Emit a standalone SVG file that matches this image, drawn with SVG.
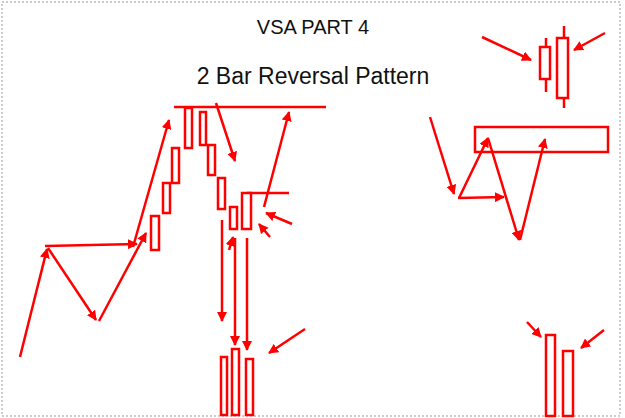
<svg xmlns="http://www.w3.org/2000/svg" width="625" height="418" viewBox="0 0 625 418">
<style>
.l{stroke:#f00;stroke-width:2.5;fill:none}
.a{stroke:#f00;stroke-width:2.5;fill:none;marker-end:url(#ah)}
.c{stroke:#f00;stroke-width:2.5;fill:#fff}
.t{font-family:"Liberation Sans",Arial,sans-serif;font-size:20px;fill:#111;text-anchor:middle}
</style>
<defs><marker id="ah" viewBox="0 0 10 10" refX="9" refY="5" markerWidth="4" markerHeight="4" orient="auto" markerUnits="strokeWidth"><path d="M0,0L10,5L0,10z" fill="#f00"/></marker></defs>
<rect width="625" height="418" fill="#fff"/>
<rect x="2" y="2" width="618" height="414" fill="none" stroke="#999" stroke-dasharray="2,2"/>
<text class="t" x="313" y="34">VSA PART 4</text>
<text class="t" x="313" y="84" style="font-size:23px">2 Bar Reversal Pattern</text>
<g id="connectors">
<path class="a" d="M20,357L47,249"/>
<path class="a" d="M45,246L137,244"/>
<path class="a" d="M48,248L96,320"/>
<path class="a" d="M99,321L146,233"/>
<path class="a" d="M133,247L169,120"/>
<path class="l" d="M174,107H326"/>
<path class="a" d="M216,103L235,161"/>
<path class="a" d="M264,207L289,112"/>
<path class="l" d="M247,193H289"/>
<path class="a" d="M292,224L266,213"/>
<path class="a" d="M270,237L259,224"/>
<path class="a" d="M229,250L233,237"/>
<path class="a" d="M222,220V321"/>
<path class="a" d="M235,238V345"/>
<path class="a" d="M247,238V350"/>
<path class="a" d="M305,329L269,353"/>
<path class="a" d="M482,37L531,60"/>
<path class="a" d="M605,33L574,50"/>
<path class="a" d="M430,117L454,194"/>
<path class="a" d="M459,198L488,138"/>
<path class="a" d="M458,198L504,197"/>
<path class="a" d="M488,138L519,240"/>
<path class="a" d="M520,240L545,139"/>
<path class="a" d="M527,322L541,337"/>
<path class="a" d="M604,330L581,348"/>
</g>
<g id="bars-up">
<rect class="c" x="151" y="216" width="8" height="34"/>
<rect class="c" x="163" y="183" width="7" height="30"/>
<rect class="c" x="172" y="148" width="7" height="35"/>
<rect class="c" x="185" y="108" width="7" height="40"/>
<rect class="c" x="200" y="112" width="6" height="33"/>
<rect class="c" x="208" y="145" width="7" height="30"/>
<rect class="c" x="218" y="178" width="7" height="31"/>
<rect class="c" x="230" y="207" width="7" height="22"/>
<rect class="c" x="242" y="193" width="9" height="36"/>
</g>
<g id="bars-bottom">
<rect class="c" x="221" y="357" width="6" height="58"/>
<rect class="c" x="232" y="349" width="7" height="66"/>
<rect class="c" x="246" y="359" width="7" height="56"/>
</g>
<g id="candles">
<path class="l" d="M546,38V92M564,26V108"/>
<rect class="c" x="540" y="47" width="10" height="32"/>
<rect class="c" x="557" y="38" width="11" height="60"/>
</g>
<g id="zone"><rect class="l" x="475" y="127" width="133" height="25"/></g>
<g id="bars-right">
<rect class="c" x="546" y="335" width="9" height="81"/>
<rect class="c" x="563" y="351" width="10" height="65"/>
</g>
</svg>
